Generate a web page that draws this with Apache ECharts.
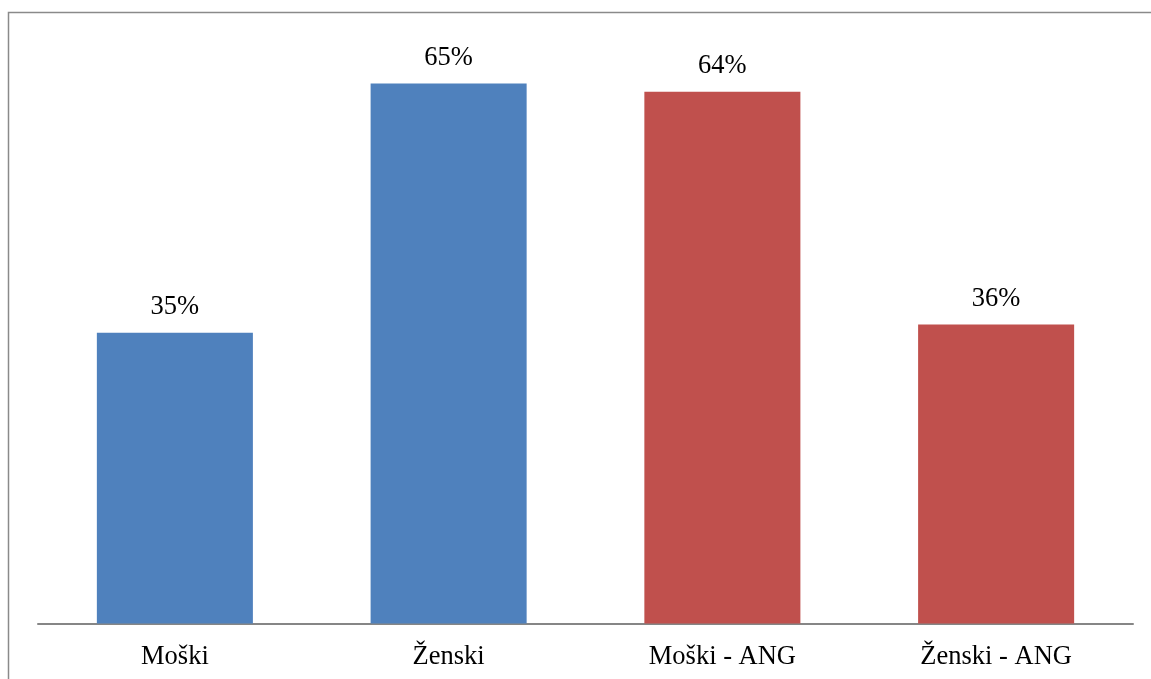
<!DOCTYPE html>
<html>
<head>
<meta charset="utf-8">
<script src="https://cdn.jsdelivr.net/npm/echarts@6/dist/echarts.min.js"></script>
<style>
  html, body { margin: 0; padding: 0; background: #fff; }
  #chart { width: 1151px; height: 679px; }
</style>
</head>
<body>
<div id="chart"></div>
<script>
// Share of respondents by group
const categories = ['Moški', 'Ženski', 'Moški - ANG', 'Ženski - ANG'];
const shares = [0.35, 0.65, 0.64, 0.36];
const barColors = ['#4F81BD', '#4F81BD', '#C0504D', '#C0504D'];

const chart = echarts.init(document.getElementById('chart'), null, { renderer: 'canvas' });

chart.setOption({
  animation: false,
  backgroundColor: '#ffffff',
  graphic: [{
    type: 'rect',
    shape: { x: 8.5, y: 12.5, width: 1170, height: 700 },
    style: { fill: 'none', stroke: '#8a8a8a', lineWidth: 1.5 },
    silent: true
  }],
  grid: { left: 38, right: 18, top: 42, bottom: 55.5, containLabel: false },
  xAxis: {
    type: 'category',
    data: categories,
    axisLine: { show: true, lineStyle: { color: '#868686', width: 2 } },
    axisTick: { show: false },
    axisLabel: {
      color: '#000',
      fontFamily: '"Liberation Serif", "Times New Roman", serif',
      fontSize: 26.5,
      margin: 20
    }
  },
  yAxis: {
    type: 'value',
    min: 0, max: 0.7,
    show: false,
    splitLine: { show: false }
  },
  series: [{
    type: 'bar',
    barWidth: '57%',
    data: shares.map((v, i) => ({ value: v, itemStyle: { color: barColors[i] } })),
    label: {
      show: true,
      position: 'top',
      distance: 12,
      color: '#000',
      fontFamily: '"Liberation Serif", "Times New Roman", serif',
      fontSize: 26.5,
      formatter: p => Math.round(p.value * 100) + '%'
    }
  }]
});
</script>
</body>
</html>
